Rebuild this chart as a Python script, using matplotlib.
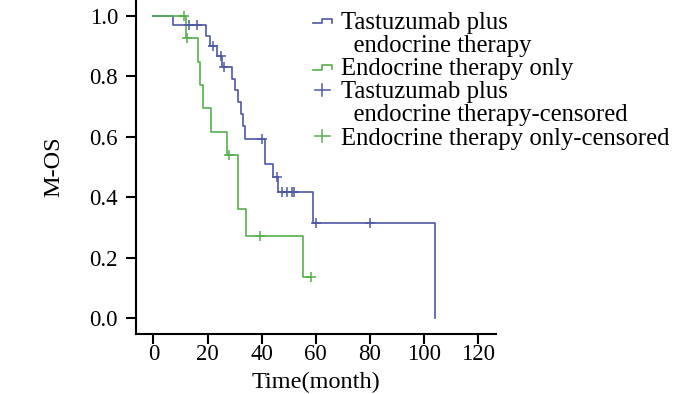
import numpy as np
import matplotlib.pyplot as plt
from matplotlib.lines import Line2D
from matplotlib.legend_handler import HandlerBase

# Kaplan-Meier steps
blue_t = [0, 7.4, 19.3, 21.0, 23.4, 25.2, 29.2, 30.2, 31.1, 32.2, 33.1, 34.0, 41.2, 44.0, 46.2, 59.0, 104.0]
blue_s = [1.0, 0.969, 0.935, 0.902, 0.866, 0.832, 0.79, 0.755, 0.715, 0.675, 0.635, 0.593, 0.509, 0.468, 0.418, 0.314, 0.0]
blue_cens = [13.2, 16.2, 22.1, 24.9, 26.2, 40.2, 45.5, 47.4, 49.2, 51.1, 51.9, 60.0, 80.0]

green_t = [0, 11.9, 16.4, 17.2, 18.2, 21.2, 27.3, 31.1, 34.2, 55.1]
green_s = [1.0, 0.926, 0.849, 0.772, 0.694, 0.617, 0.54, 0.36, 0.27, 0.135]
green_cens = [11.3, 12.3, 28.0, 39.4, 58.2]

labels = ['Tastuzumab plus\n  endocrine therapy', 'Endocrine therapy only',
          'Tastuzumab plus\n  endocrine therapy-censored', 'Endocrine therapy only-censored']

BLUE = '#4f58a6'
GREEN = '#55b04c'

plt.rcParams['font.family'] = ['Liberation Serif', 'DejaVu Serif']


def surv_at(t, times, surv):
    i = np.searchsorted(times, t, side='right') - 1
    return np.asarray(surv)[i]


class StepHandler(HandlerBase):
    def create_artists(self, legend, orig, xd, yd, w, h, fs, trans):
        c = h / 2
        xs = np.array([0.0, 0.5, 0.5, 1.0, 1.0]) * w - xd
        ys = c + np.array([-2, -2, 1.5, 1.5, -1.5]) - yd
        return [Line2D(xs, ys, color=orig.get_color(), lw=1.2, transform=trans)]


class PlusHandler(HandlerBase):
    def create_artists(self, legend, orig, xd, yd, w, h, fs, trans):
        c = h / 2 - yd
        col = orig.get_color()
        hl = Line2D(np.array([0.1, 0.9]) * w - xd, [c, c], color=col, lw=1.1, transform=trans)
        vl = Line2D([w / 2 - xd, w / 2 - xd], [c - 4.5, c + 4.5], color=col, lw=1.1, transform=trans)
        return [hl, vl]


class BlankHandler(HandlerBase):
    def create_artists(self, legend, orig, xd, yd, w, h, fs, trans):
        return [Line2D([0], [0], alpha=0, transform=trans)]


fig = plt.figure(figsize=(7, 3.94), dpi=100)
ax = fig.add_axes([136 / 700, 60 / 394, 360 / 700, 334 / 394])

gx = green_t + [max(green_cens)]
gy = green_s + [green_s[-1]]

l1, = ax.plot(blue_t, blue_s, drawstyle='steps-post', color=BLUE, lw=1.2)
l2, = ax.plot(gx, gy, drawstyle='steps-post', color=GREEN, lw=1.2)
l3, = ax.plot(blue_cens, surv_at(blue_cens, blue_t, blue_s), '+', color=BLUE, ms=7, mew=1.1)
l4, = ax.plot(green_cens, surv_at(green_cens, green_t, green_s), '+', color=GREEN, ms=7, mew=1.1)

ax.set_xlim(-6.4, 126.5)
ax.set_ylim(-0.053, 1.053)
ax.set_xticks(range(0, 121, 20))
ax.set_yticks(np.arange(0, 1.01, 0.2))
ax.yaxis.set_major_formatter(plt.FormatStrFormatter('%.1f'))
for s in ['top', 'right']:
    ax.spines[s].set_visible(False)
for s in ['left', 'bottom']:
    ax.spines[s].set_linewidth(1.5)
ax.tick_params(length=7, width=1.5, labelsize=16.5, colors='black')
ax.tick_params(axis='y', pad=6)
ax.tick_params(axis='x', pad=0.5)
ax.set_xlabel('Time(month)', fontsize=17.5, labelpad=5)
ax.set_ylabel('M-OS', fontsize=17.5, labelpad=18)

# one legend row per text line so the glyphs sit on the first line
handles, texts, hmap = [], [], {}
for h, lab in zip([l1, l2, l3, l4], labels):
    for k, part in enumerate(lab.split('\n')):
        if k == 0:
            handles.append(h)
        else:
            b = Line2D([], [])
            hmap[b] = BlankHandler()
            handles.append(b)
        texts.append(part)
hmap.update({l1: StepHandler(), l2: StepHandler(), l3: PlusHandler(), l4: PlusHandler()})

leg = ax.legend(handles, texts, handler_map=hmap,
                loc='upper left', bbox_to_anchor=(313 / 700, 1 - 12 / 394), bbox_transform=fig.transFigure,
                frameon=False, fontsize=17.8, handlelength=0.75, handletextpad=0.4,
                labelspacing=0.03, borderpad=0, borderaxespad=0)
leg.set_clip_on(False)

fig.savefig('out.png', dpi=100)
